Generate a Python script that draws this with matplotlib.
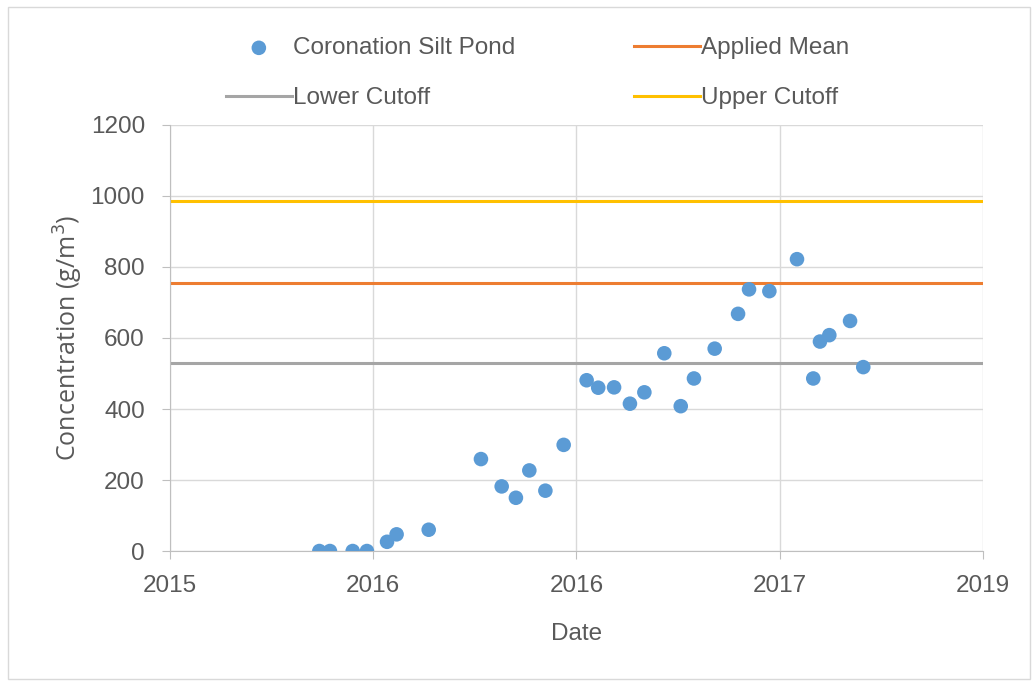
import matplotlib
matplotlib.use("Agg")
import matplotlib.pyplot as plt
from matplotlib.patches import Rectangle

plt.rcParams['font.family'] = ['Liberation Sans', 'DejaVu Sans']

# x positions are in tick units (0 = first tick, 4 = last tick)
tick_labels = ["2015", "2016", "2016", "2017", "2019"]
date_pos = [0.735, 0.787, 0.899, 0.969, 1.068, 1.115, 1.273, 1.530, 1.632, 1.702,
            1.768, 1.847, 1.937, 2.050, 2.107, 2.185, 2.263, 2.334, 2.432, 2.513,
            2.578, 2.680, 2.795, 2.849, 2.949, 3.085, 3.165, 3.198, 3.244, 3.346,
            3.411]
conc = [0, 0, 0, 0, 26, 47, 60, 259, 182, 150,
        227, 170, 299, 481, 460, 461, 415, 447, 557, 408,
        486, 570, 668, 737, 732, 822, 486, 590, 608, 648,
        518]
applied_mean = 755
lower_cutoff = 530
upper_cutoff = 985

txt = "#595959"
fig = plt.figure(figsize=(10.32, 6.84), dpi=100)
ax = fig.add_axes([0.1647, 0.1944, 0.7878, 0.6229])

ax.axhline(lower_cutoff, color="#A5A5A5", lw=2.2, label="Lower Cutoff", zorder=2)
ax.axhline(applied_mean, color="#ED7D31", lw=2.2, label="Applied Mean", zorder=2)
ax.axhline(upper_cutoff, color="#FFC000", lw=2.2, label="Upper Cutoff", zorder=2)
ax.scatter(date_pos, conc, s=110, color="#5B9BD5", edgecolors="none",
           label="Coronation Silt Pond", zorder=3)

ax.set_xlim(0, 4)
ax.set_ylim(0, 1200)
ax.set_xticks(range(5))
ax.set_xticklabels(tick_labels)
ax.set_yticks(range(0, 1201, 200))
ax.grid(True, color="#D9D9D9", lw=1)
ax.set_axisbelow(True)
for s in ["top", "right"]:
    ax.spines[s].set_visible(False)
for s in ["left", "bottom"]:
    ax.spines[s].set_color("#BFBFBF")
ax.tick_params(colors="#BFBFBF", labelcolor=txt, labelsize=17.5, length=6)
ax.tick_params(axis="x", pad=11)
ax.tick_params(axis="y", pad=12)

ax.set_xlabel("Date", color=txt, fontsize=17.5, labelpad=19)
ax.set_ylabel("Concentration (g/m$^3$)", color=txt, fontsize=18, labelpad=4,
              family=['Open Sans', 'DejaVu Sans'])

h, l = ax.get_legend_handles_labels()
order = [3, 0, 1, 2]
fig.legend([h[i] for i in order], [l[i] for i in order], ncol=2,
           loc="center", bbox_to_anchor=(0.521, 0.893), frameon=False,
           fontsize=17.5, labelcolor=txt, handlelength=2.7, handletextpad=0.05,
           columnspacing=4.9, labelspacing=1.15)

fig.patches.append(Rectangle((0.008, 0.008), 0.99, 0.982, transform=fig.transFigure,
                             fill=False, edgecolor="#D9D9D9", lw=1))

fig.savefig("out.png", dpi=100)
